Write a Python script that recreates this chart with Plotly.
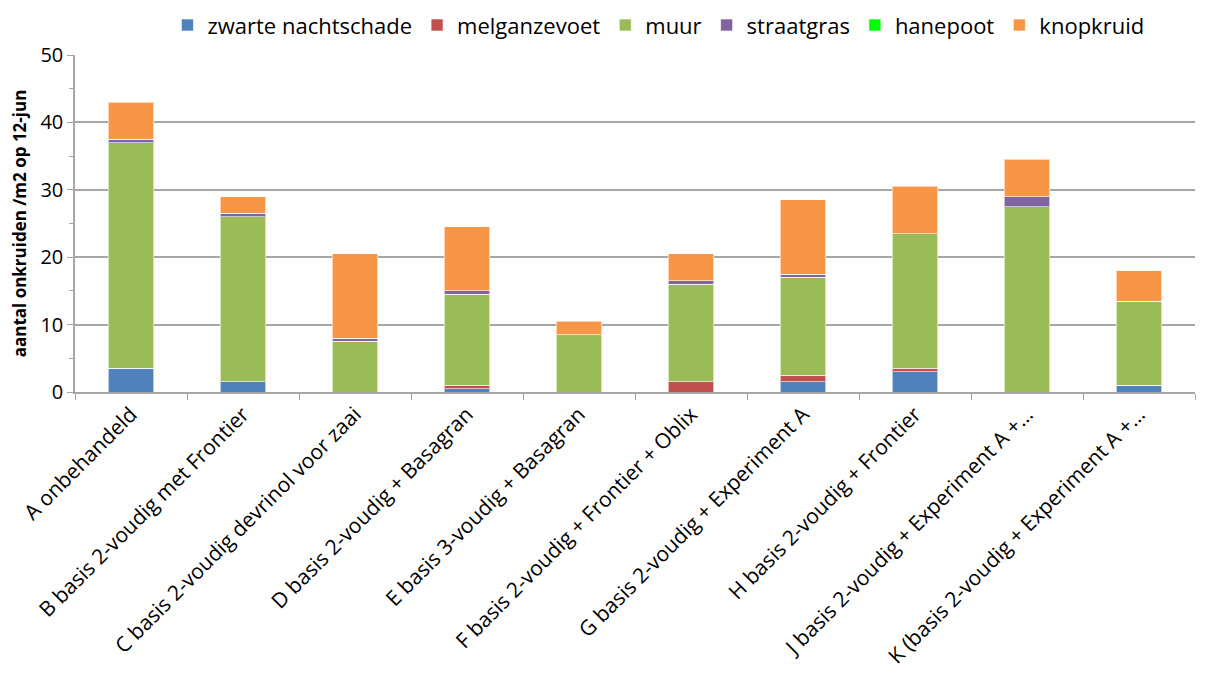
import plotly.graph_objects as go

categories = [
    "A onbehandeld",
    "B basis 2-voudig met Frontier",
    "C basis 2-voudig devrinol voor zaai",
    "D basis 2-voudig + Basagran",
    "E basis 3-voudig + Basagran",
    "F basis 2-voudig + Frontier + Oblix",
    "G basis 2-voudig + Experiment A",
    "H basis 2-voudig + Frontier",
    "J basis 2-voudig + Experiment A +…",
    "K (basis 2-voudig + Experiment A +…",
]

zwarte_nachtschade = [3.5, 1.5, 0, 0.5, 0, 0, 1.5, 3.0, 0, 1.0]
melganzevoet = [0, 0, 0, 0.5, 0, 1.5, 1.0, 0.5, 0, 0]
muur = [33.5, 24.5, 7.5, 13.5, 8.5, 14.5, 14.5, 20.0, 27.5, 12.5]
straatgras = [0.5, 0.5, 0.5, 0.5, 0, 0.5, 0.5, 0, 1.5, 0]
hanepoot = [0, 0, 0, 0, 0, 0, 0, 0, 0, 0]
knopkruid = [5.5, 2.5, 12.5, 9.5, 2.0, 4.0, 11.0, 7.0, 5.5, 4.5]

series = [
    ("zwarte nachtschade", zwarte_nachtschade, "#4f81bd"),
    ("melganzevoet", melganzevoet, "#c0504d"),
    ("muur", muur, "#9bbb59"),
    ("straatgras", straatgras, "#8064a2"),
    ("hanepoot", hanepoot, "#00ff00"),
    ("knopkruid", knopkruid, "#f79646"),
]

fig = go.Figure()
for name, vals, col in series:
    fig.add_trace(go.Bar(
        x=categories, y=vals, name=name,
        marker=dict(color=col, line=dict(color="rgba(255,255,255,0.6)", width=1)),
    ))

# page body has an 8px margin, so the figure is offset by 8px
fig.update_layout(
    barmode="stack",
    bargap=0.59,
    width=1209, height=689,
    margin=dict(l=67, r=22, t=47, b=305, autoexpand=False),
    plot_bgcolor="white", paper_bgcolor="white",
    font=dict(family="Open Sans, Liberation Sans, sans-serif", color="black"),
    legend=dict(orientation="h", x=0.538, xanchor="center", xref="container",
                y=0.975, yanchor="middle", yref="container",
                font=dict(size=22), itemwidth=30, traceorder="normal"),
    showlegend=True,
)
fig.update_yaxes(
    range=[0, 50], dtick=10, automargin=False,
    showgrid=True, gridcolor="#a6a6a6", gridwidth=1.5,
    showline=True, linecolor="#a6a6a6", linewidth=1.5,
    ticks="outside", ticklen=6, tickcolor="#a6a6a6",
    minor=dict(dtick=5, ticks="outside", ticklen=4, tickcolor="#a6a6a6", showgrid=False),
    tickfont=dict(size=20),
    title=dict(text="<b>aantal onkruiden /m2 op 12-jun</b>", font=dict(size=17), standoff=10),
    zeroline=False,
)
fig.update_xaxes(
    automargin=False,
    showline=True, linecolor="#a6a6a6", linewidth=1.5,
    ticks="outside", ticklen=6, tickcolor="#a6a6a6", tickson="boundaries",
    tickangle=-45, tickfont=dict(size=21),
)

fig.write_html("out.html")
